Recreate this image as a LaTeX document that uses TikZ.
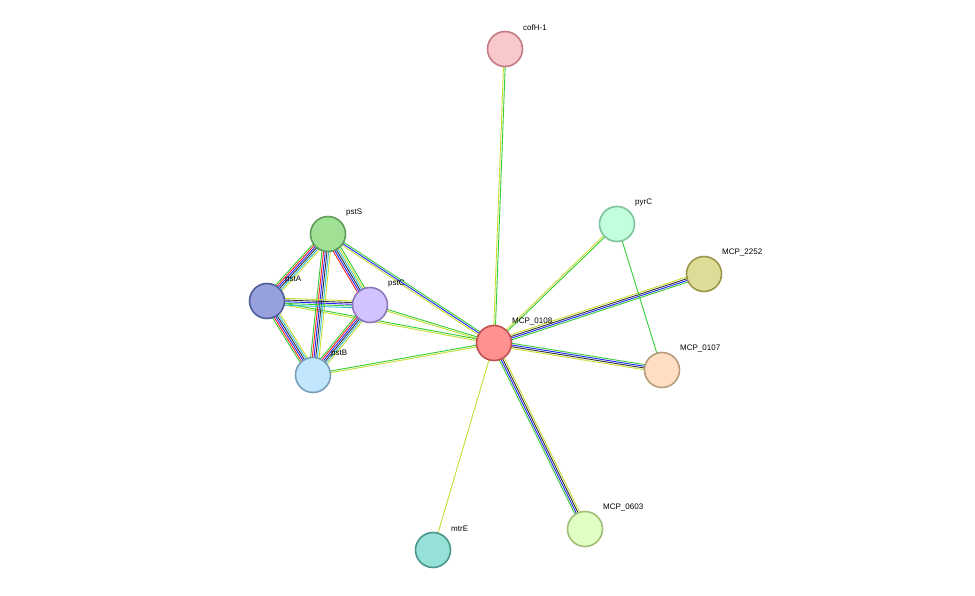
\documentclass[tikz,border=0pt]{standalone}
\usepackage{fontspec}
\setmainfont{Liberation Sans}
\usetikzlibrary{calc}
\definecolor{cneigh}{HTML}{33CC33}
\definecolor{cfus}{HTML}{FF2222}
\definecolor{cocc}{HTML}{2222FF}
\definecolor{ccoex}{HTML}{333333}
\definecolor{cdb}{HTML}{33BBDD}
\definecolor{ctext}{HTML}{C8DC32}
% parallel coloured lines between two nodes
\newcommand{\linkedge}[3]{%
  \foreach \c [count=\n] in {#3}{\xdef\nlines{\n}}%
  \foreach \c [count=\i] in {#3}{%
    \pgfmathsetmacro\off{(\i-(\nlines+1)/2)*1.7}%
    \draw[\c, line width=0.9pt] ($(#1)!\off pt!90:(#2)$) -- ($(#2)!\off pt!-90:(#1)$);
  }}
\begin{document}
\begin{tikzpicture}[x=1pt, y=-1pt, font=\small]
    \tikzstyle{prot}=[circle, line width=1.6pt, minimum size=35pt, inner sep=0pt]
    \tikzstyle{lbl}=[anchor=west, inner sep=0pt, font=\footnotesize]
    \useasboundingbox (0,0) rectangle (975,596);
    \coordinate (p0108) at (494,343);
    \coordinate (pcofH) at (505,49);
    \coordinate (ppyrC) at (617,224);
    \coordinate (p2252) at (704,274);
    \coordinate (p0107) at (662,370);
    \coordinate (p0603) at (585,529);
    \coordinate (pmtrE) at (433,550);
    \coordinate (ppstS) at (328,234);
    \coordinate (ppstA) at (267,301);
    \coordinate (ppstC) at (370,305);
    \coordinate (ppstB) at (313,375);
    % edges
    \linkedge{p0108}{pcofH}{cneigh,ctext}
    \linkedge{p0108}{ppyrC}{cneigh,ctext}
    \linkedge{p0108}{p2252}{cneigh,cocc,ccoex,ctext}
    \linkedge{p0108}{p0107}{ctext,ccoex,cocc,cneigh}
    \linkedge{p0108}{p0603}{cneigh,cocc,ccoex,ctext}
    \linkedge{p0108}{pmtrE}{ctext}
    \linkedge{ppyrC}{p0107}{cneigh}
    \linkedge{p0108}{ppstS}{cneigh,cocc,ctext}
    \linkedge{p0108}{ppstC}{cneigh,ctext}
    \linkedge{p0108}{ppstA}{cneigh,ctext}
    \linkedge{p0108}{ppstB}{cneigh,ctext}
    \linkedge{ppstS}{ppstA}{cneigh,cfus,cocc,ccoex,cdb,ctext}
    \linkedge{ppstS}{ppstC}{cfus,cocc,ccoex,cdb,ctext,cneigh}
    \linkedge{ppstS}{ppstB}{cneigh,cfus,cocc,ccoex,cdb,ctext}
    \linkedge{ppstA}{ppstC}{cdb,cneigh,cocc,ccoex,ctext}
    \linkedge{ppstA}{ppstB}{cneigh,cfus,cocc,ccoex,cdb,ctext}
    \linkedge{ppstC}{ppstB}{cneigh,cfus,cocc,ccoex,cdb,ctext}
    % proteins
    \node[prot, draw={rgb,255:red,190;green,80;blue,80}, fill={rgb,255:red,255;green,145;blue,145}] (n0108) at (p0108) {};
    \node[prot, draw={rgb,255:red,195;green,125;blue,130}, fill={rgb,255:red,248;green,200;blue,202}] (ncofH) at (pcofH) {};
    \node[prot, draw={rgb,255:red,125;green,195;blue,155}, fill={rgb,255:red,195;green,255;blue,220}] (npyrC) at (ppyrC) {};
    \node[prot, draw={rgb,255:red,155;green,150;blue,75}, fill={rgb,255:red,222;green,220;blue,150}] (n2252) at (p2252) {};
    \node[prot, draw={rgb,255:red,185;green,155;blue,125}, fill={rgb,255:red,255;green,222;blue,195}] (n0107) at (p0107) {};
    \node[prot, draw={rgb,255:red,160;green,190;blue,120}, fill={rgb,255:red,225;green,255;blue,195}] (n0603) at (p0603) {};
    \node[prot, draw={rgb,255:red,75;green,150;blue,140}, fill={rgb,255:red,150;green,225;blue,215}] (nmtrE) at (pmtrE) {};
    \node[prot, draw={rgb,255:red,95;green,155;blue,90}, fill={rgb,255:red,160;green,225;blue,150}] (npstS) at (ppstS) {};
    \node[prot, draw={rgb,255:red,80;green,95;blue,150}, fill={rgb,255:red,150;green,160;blue,220}] (npstA) at (ppstA) {};
    \node[prot, draw={rgb,255:red,140;green,120;blue,185}, fill={rgb,255:red,210;green,195;blue,255}] (npstC) at (ppstC) {};
    \node[prot, draw={rgb,255:red,120;green,160;blue,185}, fill={rgb,255:red,195;green,230;blue,255}] (npstB) at (ppstB) {};
    % labels
    \node[lbl] at ($(p0108)+(18,-21)$) {MCP\_0108};
    \node[lbl] at ($(pcofH)+(18,-21)$) {cofH-1};
    \node[lbl] at ($(ppyrC)+(18,-21)$) {pyrC};
    \node[lbl] at ($(p2252)+(18,-21)$) {MCP\_2252};
    \node[lbl] at ($(p0107)+(18,-21)$) {MCP\_0107};
    \node[lbl] at ($(p0603)+(18,-21)$) {MCP\_0603};
    \node[lbl] at ($(pmtrE)+(18,-21)$) {mtrE};
    \node[lbl] at ($(ppstS)+(18,-21)$) {pstS};
    \node[lbl] at ($(ppstA)+(18,-21)$) {pstA};
    \node[lbl] at ($(ppstC)+(18,-21)$) {pstC};
    \node[lbl] at ($(ppstB)+(18,-21)$) {pstB};
\end{tikzpicture}
\end{document}
